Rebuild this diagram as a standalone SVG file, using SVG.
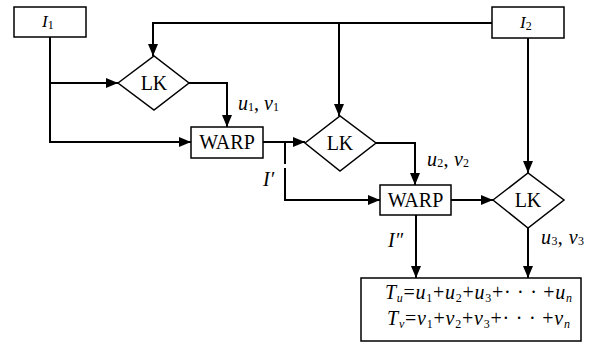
<svg xmlns="http://www.w3.org/2000/svg" width="601" height="345" viewBox="0 0 601 345">
<style>
text{font-family:"Liberation Serif","Times New Roman",serif;fill:#000}
.lbl{font-size:20px}
.i{font-style:italic}
.s{font-size:12px}
.node{fill:#fff;stroke:#000;stroke-width:1.5}
.c{fill:none;stroke:#000;stroke-width:2}
</style>
<defs>
<marker id="ah" markerUnits="userSpaceOnUse" markerWidth="13" markerHeight="11" refX="12" refY="5" orient="auto">
<path d="M0,0 L12,5 L0,10 z" fill="#000"/>
</marker>
</defs>
<g id="connectors">
<path class="c" d="M50,37 V142 H191" marker-end="url(#ah)"/>
<path class="c" d="M50,83 H118" marker-end="url(#ah)"/>
<path class="c" d="M492,23 H153 V56" marker-end="url(#ah)"/>
<path class="c" d="M339,23 V116" marker-end="url(#ah)"/>
<path class="c" d="M528,38 V173" marker-end="url(#ah)"/>
<path class="c" d="M189,83 H227 V127" marker-end="url(#ah)"/>
<path class="c" d="M263,142 H305" marker-end="url(#ah)"/>
<path class="c" d="M285,142 V164"/>
<path class="c" d="M285,168 V200 H380" marker-end="url(#ah)"/>
<path class="c" d="M376,143 H415 V185" marker-end="url(#ah)"/>
<path class="c" d="M451,200 H493" marker-end="url(#ah)"/>
<path class="c" d="M416,215 V278" marker-end="url(#ah)"/>
<path class="c" d="M528,228 V278" marker-end="url(#ah)"/>
</g>
<g id="labels">
<text x="238" y="110" font-size="20" textLength="41" lengthAdjust="spacing"><tspan class="i">u</tspan><tspan class="s" dy="1">1</tspan><tspan dy="-1">, </tspan><tspan class="i">v</tspan><tspan class="s" dy="1">1</tspan></text>
<text x="427" y="166" font-size="20" textLength="42" lengthAdjust="spacing"><tspan class="i">u</tspan><tspan class="s" dy="1">2</tspan><tspan dy="-1">, </tspan><tspan class="i">v</tspan><tspan class="s" dy="1">2</tspan></text>
<text x="541" y="244" font-size="20" textLength="43" lengthAdjust="spacing"><tspan class="i">u</tspan><tspan class="s" dy="1">3</tspan><tspan dy="-1">, </tspan><tspan class="i">v</tspan><tspan class="s" dy="1">3</tspan></text>
<text x="263" y="186" font-size="20" class="i">I′</text>
<text x="388" y="247" font-size="20" class="i">I″</text>
</g>
<g id="I1">
<rect class="node" x="14" y="7" width="72" height="30"/>
<text x="42" y="27" font-size="17"><tspan class="i">I</tspan><tspan class="s" font-size="10" dy="2">1</tspan></text>
</g>
<g id="I2">
<rect class="node" x="492" y="7" width="72" height="31"/>
<text x="520" y="28" font-size="17"><tspan class="i">I</tspan><tspan class="s" font-size="10" dy="2">2</tspan></text>
</g>
<g id="LK1">
<path class="node" d="M118,83 L154,56 L189,83 L154,110 z"/>
<text class="lbl" x="154" y="90" text-anchor="middle">LK</text>
</g>
<g id="WARP1">
<rect class="node" x="191" y="127" width="72" height="31"/>
<text class="lbl" x="227" y="149" text-anchor="middle">WARP</text>
</g>
<g id="LK2">
<path class="node" d="M305,143 L340,116 L376,143 L340,171 z"/>
<text class="lbl" x="340" y="150" text-anchor="middle">LK</text>
</g>
<g id="WARP2">
<rect class="node" x="380" y="185" width="71" height="30"/>
<text class="lbl" x="415.5" y="207" text-anchor="middle">WARP</text>
</g>
<g id="LK3">
<path class="node" d="M493,200 L528,173 L564,200 L528,228 z"/>
<text class="lbl" x="528" y="207" text-anchor="middle">LK</text>
</g>
<g id="result">
<rect class="node" x="361" y="278" width="220" height="63"/>
<text x="385" y="299" font-size="20" textLength="187" lengthAdjust="spacing"><tspan class="i">T</tspan><tspan class="s i" dy="3">u</tspan><tspan dy="-3">=</tspan><tspan class="i">u</tspan><tspan class="s" dy="3">1</tspan><tspan dy="-3">+</tspan><tspan class="i">u</tspan><tspan class="s" dy="3">2</tspan><tspan dy="-3">+</tspan><tspan class="i">u</tspan><tspan class="s" dy="3">3</tspan><tspan dy="-3">+· · · +</tspan><tspan class="i">u</tspan><tspan class="s i" dy="3">n</tspan></text>
<text x="387" y="325" font-size="20" textLength="183" lengthAdjust="spacing"><tspan class="i">T</tspan><tspan class="s i" dy="3">v</tspan><tspan dy="-3">=</tspan><tspan class="i">v</tspan><tspan class="s" dy="3">1</tspan><tspan dy="-3">+</tspan><tspan class="i">v</tspan><tspan class="s" dy="3">2</tspan><tspan dy="-3">+</tspan><tspan class="i">v</tspan><tspan class="s" dy="3">3</tspan><tspan dy="-3">+· · · +</tspan><tspan class="i">v</tspan><tspan class="s i" dy="3">n</tspan></text>
</g>
</svg>
